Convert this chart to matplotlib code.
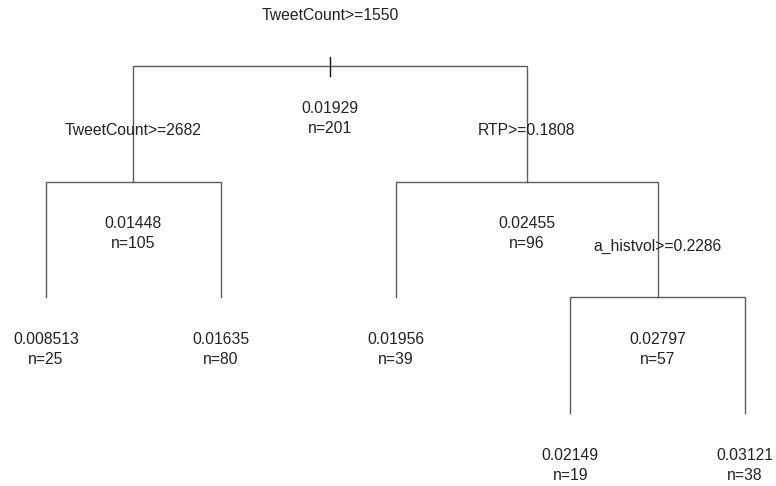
import matplotlib.pyplot as plt

# rpart-style numbering: children of node k are 2k and 2k+1
node_ids = [1, 2, 3, 4, 5, 6, 7, 14, 15]
node_vals = [0.01929, 0.01448, 0.02455, 0.008513, 0.01635, 0.01956, 0.02797, 0.02149, 0.03121]
node_n = [201, 105, 96, 25, 80, 39, 57, 19, 38]
split_nodes = [1, 2, 3, 7]
split_labels = ["TweetCount>=1550", "TweetCount>=2682", "RTP>=0.1808", "a_histvol>=0.2286"]

plt.rcParams['font.family'] = ['Liberation Sans', 'DejaVu Sans']
LINE = '#5c5c5c'
TXT = '#222222'
FS = 11.3

ids = set(node_ids)
splits = dict(zip(split_nodes, split_labels))
vals = dict(zip(node_ids, node_vals))
ns = dict(zip(node_ids, node_n))

# leaves get x = 1, 2, ... in left-to-right order; parents sit midway
pos = {}
counter = [0]


def layout(k, depth):
    if 2 * k in ids:
        xl = layout(2 * k, depth + 1)
        xr = layout(2 * k + 1, depth + 1)
        x = (xl + xr) / 2
    else:
        counter[0] += 1
        x = counter[0]
    pos[k] = (x, depth)
    return x


layout(1, 0)

fig = plt.figure(figsize=(7.76, 4.86), dpi=100)
ax = fig.add_axes([0, 0, 1, 1])
ax.set_xlim(0.737, 5.177)
ax.set_ylim(3.631, -0.571)
ax.axis('off')

for k in node_ids:
    x, d = pos[k]
    if 2 * k in ids:
        xl, dl = pos[2 * k]
        xr, dr = pos[2 * k + 1]
        ax.plot([xl, xl, xr, xr], [dl, d, d, dr], color=LINE, lw=1.0,
                solid_joinstyle='miter')
        ax.annotate(splits[k], (x, d), xytext=(0, 51), textcoords='offset pixels',
                    ha='center', va='center', fontsize=FS, color=TXT)
    ax.annotate(f"{vals[k]:.4g}", (x, d), xytext=(0, -42), textcoords='offset pixels',
                ha='center', va='center', fontsize=FS, color=TXT)
    ax.annotate(f"n={ns[k]}", (x, d), xytext=(0, -62), textcoords='offset pixels',
                ha='center', va='center', fontsize=FS, color=TXT)

# small tick marking the root
rx, rd = pos[1]
ax.plot([rx, rx], [rd - 0.075, rd + 0.085], color='#111111', lw=1.0)

fig.savefig('out.png', dpi=100, facecolor='white')
